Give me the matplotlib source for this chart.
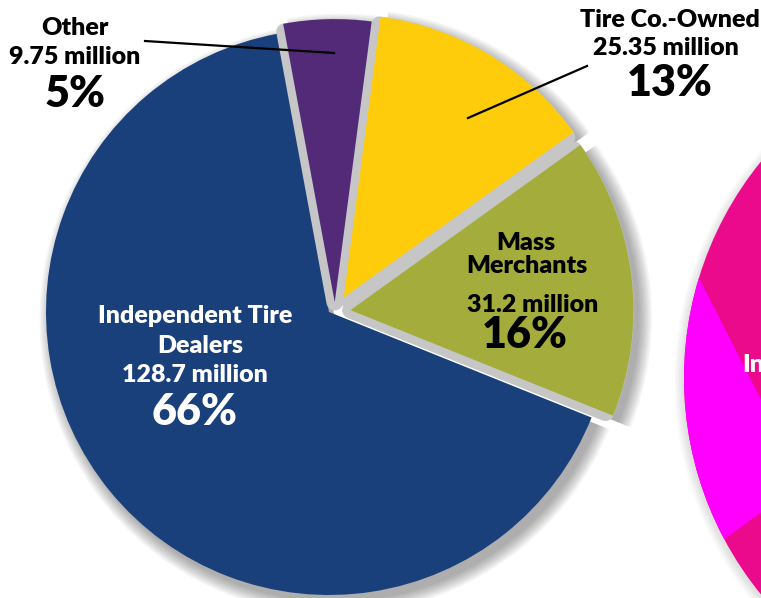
import matplotlib.pyplot as plt
from matplotlib.patches import Circle

# tire sales by outlet type, in millions of units
channels = ["Other", "Tire Co.-Owned", "Mass Merchants", "Independent Tire Dealers"]
units = [9.75, 25.35, 31.2, 128.7]
shares = ["5%", "13%", "16%", "66%"]
explode_frac = [0.035, 0.06, 0.055, 0.0]
colors = ["#532A77", "#FECC0A", "#A4AD3B", "#19407B"]

# neighbouring chart, only its left edge shows
side_shares = [27.5, 72.5]
side_colors = ["#FF00FF", "#EC0A8C"]

W, H = 761, 598


def iy(y):
    # image rows run downward, the axes run upward
    return H - y


fig = plt.figure(figsize=(W / 100, H / 100), dpi=100)
ax = fig.add_axes([0, 0, 1, 1])

center = (329, iy(312))
# the three smaller slices sit a little to the right of the big one
pulled = (center[0] + 6, center[1])
R = 283
# pie() takes explode in data units, so scale by the radius
pie_kw = dict(startangle=100.5, counterclock=False,
              explode=[e * R for e in explode_frac])

# soft drop shadow under the main pie
for i in range(10):
    for c, keep in ((center, [3]), (pulled, [0, 1, 2])):
        sh, _ = ax.pie(units, radius=R + i * 1.4, center=(c[0] + 6, c[1] - 7),
                       colors=["#000000"] * 4,
                       wedgeprops=dict(alpha=0.035, linewidth=0), **pie_kw)
        for k, w in enumerate(sh):
            w.set_visible(k in keep)

big_slice, _ = ax.pie(units, radius=R, center=center, colors=colors,
                      wedgeprops=dict(linewidth=0), **pie_kw)
for w in big_slice[:3]:
    w.set_visible(False)

# gray bevel around the pulled-out slices
bevel, _ = ax.pie(units, radius=R - 8, center=pulled, colors=["#C6C6C6"] * 4,
                  wedgeprops=dict(edgecolor="#C6C6C6", linewidth=12, joinstyle="round"),
                  **pie_kw)
bevel[3].set_visible(False)

wedges, _ = ax.pie(units, radius=R, center=pulled, colors=colors,
                   wedgeprops=dict(linewidth=0), **pie_kw)
wedges[3].set_visible(False)

# right-hand pie
side_center = (1027, iy(378))
side_r = 343
for i in range(6):
    ax.add_patch(Circle((side_center[0] - 2, side_center[1] - 3), side_r + i * 1.5,
                        color="black", alpha=0.02, linewidth=0))
disc = Circle(side_center, side_r, color=side_colors[1], linewidth=0)
ax.add_patch(disc)
side_wedges, _ = ax.pie(side_shares, radius=260, center=(803, iy(482)), startangle=117,
                        colors=side_colors, wedgeprops=dict(linewidth=0))
side_wedges[1].set_visible(False)
side_wedges[0].set_clip_on(True)
side_wedges[0].set_clip_path(disc.get_path(), disc.get_transform())

ax.set_xlim(0, W)
ax.set_ylim(0, H)
ax.set_aspect("equal")
ax.axis("off")

font = dict(family=["Lato", "DejaVu Sans"], fontweight="heavy", ha="center", va="baseline")
small = 18
big = 31

# Other
ax.text(75, iy(35), channels[0], fontsize=small, color="black", **font)
ax.text(75, iy(64), f"{units[0]} million", fontsize=small, color="black", **font)
ax.text(75, iy(107), shares[0], fontsize=big, color="black", **font)
ax.plot([145, 334], [iy(41), iy(53)], color="black", linewidth=1.6, zorder=3)

# Tire Co.-Owned
ax.text(670, iy(27), channels[1], fontsize=small, color="black", **font)
ax.text(666, iy(55), f"{units[1]} million", fontsize=small, color="black", **font)
ax.text(670, iy(96), shares[1], fontsize=big, color="black", **font)
ax.plot([587, 468], [iy(66), iy(118)], color="black", linewidth=1.6, zorder=3)

# Mass Merchants
ax.text(526, iy(250), "Mass", fontsize=small, color="black", **font)
ax.text(527, iy(273), "Merchants", fontsize=small, color="black", **font)
ax.text(533, iy(312), f"{units[2]} million", fontsize=small, color="black", **font)
ax.text(525, iy(348), shares[2], fontsize=big, color="black", **font)

# Independent Tire Dealers
ax.text(195, iy(323), "Independent Tire", fontsize=small, color="white", **font)
ax.text(200, iy(353), "Dealers", fontsize=small, color="white", **font)
ax.text(195, iy(382), f"{units[3]} million", fontsize=small, color="white", **font)
ax.text(195, iy(425), shares[3], fontsize=big, color="white", **font)

ax.text(742, iy(372), "Independent", fontsize=small, color="white",
        family=["Lato", "DejaVu Sans"], fontweight="heavy", ha="left", va="baseline")

fig.savefig("out.png", dpi=100)
